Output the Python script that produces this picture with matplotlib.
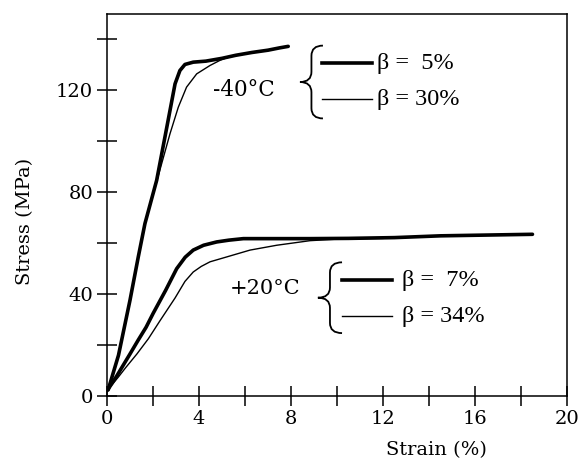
import matplotlib
matplotlib.use("Agg")
import matplotlib.pyplot as plt
from matplotlib.path import Path
from matplotlib.patches import PathPatch

# -40 C curves
strain_m40_b5 = [0.05, 0.5, 1.0, 1.36, 1.65, 2.16, 2.52, 2.96, 3.17, 3.39, 3.75, 4.3, 5.0, 5.6, 6.3, 7.0, 7.5, 7.88]
stress_m40_b5 = [2.4, 16, 37.6, 54.6, 67.7, 84.7, 101.7, 122.6, 127.8, 130.2, 131.1, 131.5, 132.6, 133.8, 134.9, 135.8, 136.7, 137.3]
strain_m40_b30 = [0.05, 0.5, 1.0, 1.36, 1.65, 2.2, 2.74, 3.1, 3.46, 3.9, 4.48, 4.91, 5.2, 5.6, 6.3, 7.0, 7.5, 7.88]
stress_m40_b30 = [2.4, 16, 37.6, 54.6, 67.7, 85.5, 103.0, 113.4, 121.3, 126.5, 129.8, 131.8, 132.8, 133.8, 134.9, 135.8, 136.7, 137.3]

# +20 C curves
strain_p20_b7 = [0.03, 0.4, 0.7, 1.0, 1.36, 1.7, 2.01, 2.55, 3.03, 3.4, 3.75, 4.2, 4.77, 5.3, 5.93, 7.0, 8.83, 10.5, 12.5, 14.5, 16.5, 18.5]
stress_p20_b7 = [2.4, 7.5, 12.0, 16.5, 22.0, 27.0, 32.5, 41.5, 50.0, 54.5, 57.3, 59.2, 60.5, 61.2, 61.8, 61.8, 61.8, 61.9, 62.2, 62.9, 63.2, 63.5]
strain_p20_b34 = [0.03, 0.5, 0.8, 1.3, 1.8, 2.3, 2.96, 3.39, 3.75, 4.1, 4.48, 5.2, 6.22, 7.38, 8.83, 10.0, 11.0, 12.0]
stress_p20_b34 = [2.4, 7.5, 11.0, 16.5, 22.5, 29.5, 38.5, 45.0, 48.7, 50.9, 52.7, 54.6, 57.3, 59.2, 61.0, 61.6, 61.8, 61.9]

x_major = [0, 4, 8, 12, 16, 20]
x_minor = [2, 6, 10, 14, 18]
y_major = [0, 40, 80, 120]
y_minor = [20, 60, 100, 140]

serif = "DejaVu Serif"
times = "Liberation Serif"

fig = plt.figure(figsize=(5.78, 4.66), dpi=100)
ax = fig.add_axes([0.1851, 0.1502, 0.7958, 0.8197])

thick = 2.6
thin = 1.0
ax.plot(strain_m40_b5, stress_m40_b5, color="black", lw=thick, solid_capstyle="round")
ax.plot(strain_m40_b30, stress_m40_b30, color="black", lw=thin)
ax.plot(strain_p20_b7, stress_p20_b7, color="black", lw=thick, solid_capstyle="round")
ax.plot(strain_p20_b34, stress_p20_b34, color="black", lw=thin)

ax.set_xlim(0, 20)
ax.set_ylim(0, 150)
ax.set_xticks(x_major)
ax.set_xticks(x_minor, minor=True)
ax.set_yticks(y_major)
ax.set_yticks(y_minor, minor=True)
ax.tick_params(which="both", direction="inout", length=14, width=1.1, color="black")
ax.tick_params(axis="y", labelsize=14, pad=3)
ax.tick_params(axis="x", labelsize=14, pad=3)
for lab in ax.get_xticklabels() + ax.get_yticklabels():
    lab.set_fontfamily(serif)
for s in ax.spines.values():
    s.set_linewidth(1.1)


def brace(x_tip, y_top, y_bot, width, dy):
    xm = x_tip + width * 0.5
    xb = x_tip + width
    ym = (y_top + y_bot) / 2
    verts = [(xb, y_top), (xm, y_top), (xm, y_top - dy), (xm, ym + dy),
             (xm, ym), (x_tip, ym), (xm, ym), (xm, ym - dy),
             (xm, y_bot + dy), (xm, y_bot), (xb, y_bot)]
    codes = [Path.MOVETO, Path.CURVE3, Path.CURVE3, Path.LINETO,
             Path.CURVE3, Path.CURVE3, Path.CURVE3, Path.CURVE3,
             Path.LINETO, Path.CURVE3, Path.CURVE3]
    ax.add_patch(PathPatch(Path(verts, codes), fill=False, lw=1.3, color="black"))


# -40 C group
ax.text(5.96, 120, "-40°C", fontsize=15.5, family=serif, ha="center", va="center")
brace(8.39, 137.6, 109.0, 1.0, 4)
ax.plot([9.35, 11.52], [130.6, 130.6], color="black", lw=2.6)
ax.plot([9.35, 11.52], [116.5, 116.5], color="black", lw=1.0)
ax.text(11.74, 130.6, "β =  5%", fontsize=17.5, family=times, ha="left", va="center")
ax.text(11.74, 116.5, "β = 30%", fontsize=17.5, family=times, ha="left", va="center")

# +20 C group
ax.text(6.87, 42.4, "+20°C", fontsize=15, family=serif, ha="center", va="center")
brace(9.17, 52.5, 24.7, 1.05, 4)
ax.plot([10.22, 12.39], [45.5, 45.5], color="black", lw=2.6)
ax.plot([10.22, 12.39], [31.4, 31.4], color="black", lw=1.0)
ax.text(12.83, 45.5, "β =  7%", fontsize=17.5, family=times, ha="left", va="center")
ax.text(12.83, 31.4, "β = 34%", fontsize=17.5, family=times, ha="left", va="center")

fig.text(25 / 578, 1 - 221 / 466, "Stress (MPa)", rotation=90, fontsize=14,
         family=serif, ha="center", va="center")
fig.text(436 / 578, 1 - 450 / 466, "Strain (%)", fontsize=14,
         family=serif, ha="center", va="center")

fig.savefig("out.png", dpi=100)
